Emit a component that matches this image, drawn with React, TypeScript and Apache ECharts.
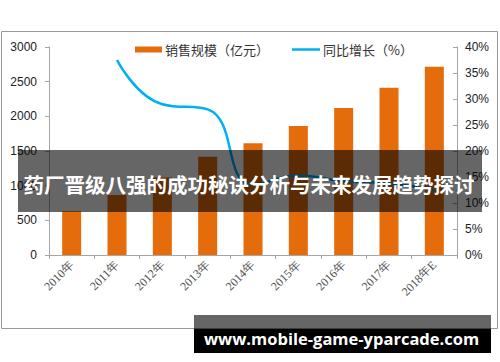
import React, { useEffect, useRef } from "react";
import * as echarts from "echarts";

const categories = ["2010年", "2011年", "2012年", "2013年", "2014年", "2015年", "2016年", "2017年", "2018年E"];
const salesValues = [630, 866, 1117, 1418, 1611, 1860, 2120, 2413, 2716];
const growthValues: (number | string)[] = ["-", 37.5, 29.0, 28.0, 13.5, 15.3, 14.2, 13.8, 12.5];
const leftTicks = { min: 0, max: 3000, interval: 500 };
const rightTicks = { min: 0, max: 40, interval: 5 };
const barName = "销售规模（亿元）";
const lineName = "同比增长（%）";
const bannerText = "药厂晋级八强的成功秘诀分析与未来发展趋势探讨";
const footerText = "www.mobile-game-yparcade.com";

export default function App() {
  const ref = useRef<HTMLDivElement>(null);
  useEffect(() => {
    if (!ref.current) return;
    const chart = echarts.init(ref.current, null, { renderer: "svg" });
    const axisColor = "#A6A6A6";
    const legendText = { fontSize: 13, color: "#333", fontFamily: "Noto Sans CJK SC", padding: [0, 0, 0, -2] };
    chart.setOption({
      animation: false,
      backgroundColor: "#fff",
      grid: { left: 49, right: 43, top: 47, bottom: 107, containLabel: false },
      legend: [
        {
          left: 130,
          top: 38,
          itemWidth: 27,
          itemHeight: 6,
          textStyle: legendText,
          data: [{ name: barName, icon: "rect" }],
        },
        {
          left: 287,
          top: 38,
          itemWidth: 28,
          itemHeight: 2.5,
          textStyle: legendText,
          data: [{ name: lineName, icon: "rect" }],
        },
      ],
      xAxis: {
        type: "category",
        data: categories,
        boundaryGap: true,
        axisLine: { lineStyle: { color: axisColor, width: 1 } },
        axisTick: { show: true, length: 4, lineStyle: { color: axisColor } },
        axisLabel: { rotate: 45, margin: 8, fontSize: 12, color: "#505050", fontFamily: "Liberation Serif", interval: 0 },
        splitLine: { show: false },
      },
      yAxis: [
        {
          type: "value",
          min: leftTicks.min,
          max: leftTicks.max,
          interval: leftTicks.interval,
          axisLine: { show: true, lineStyle: { color: axisColor } },
          axisTick: { show: true, length: 4, lineStyle: { color: axisColor } },
          axisLabel: { margin: 12, fontSize: 12, color: "#222", fontFamily: "Liberation Sans", formatter: (v: number) => String(v) },
          splitLine: { show: false },
        },
        {
          type: "value",
          min: rightTicks.min,
          max: rightTicks.max,
          interval: rightTicks.interval,
          position: "right",
          axisLine: { show: true, lineStyle: { color: axisColor } },
          axisTick: { show: true, inside: true, length: 4, lineStyle: { color: axisColor } },
          axisLabel: { margin: 8, fontSize: 12, color: "#222", fontFamily: "Liberation Sans", formatter: "{value}%" },
          splitLine: { show: false },
        },
      ],
      series: [
        {
          name: barName,
          type: "bar",
          data: salesValues,
          barWidth: 19,
          itemStyle: { color: "#E46C0A" },
        },
        {
          name: lineName,
          type: "line",
          yAxisIndex: 1,
          data: growthValues,
          smooth: true,
          symbol: "none",
          lineStyle: { color: "#00B0F0", width: 2.5 },
          itemStyle: { color: "#00B0F0" },
        },
      ],
      graphic: [
        {
          type: "rect",
          z: -10,
          silent: true,
          shape: { x: 1.5, y: 31.5, width: 496, height: 297 },
          style: { fill: "none", stroke: "#9A9A9A", lineWidth: 1 },
        },
        {
          type: "rect",
          z: 100,
          shape: { x: 18, y: 150, width: 464, height: 62 },
          style: { fill: "rgba(0,0,0,0.6)" },
        },
        {
          type: "text",
          z: 101,
          x: 249,
          y: 184,
          style: {
            text: bannerText,
            fill: "#fff",
            fontSize: 20.5,
            fontWeight: "bold",
            fontFamily: "Noto Sans CJK SC",
            align: "center",
            verticalAlign: "middle",
          },
        },
        {
          type: "rect",
          z: 100,
          shape: { x: 194, y: 315, width: 297, height: 14 },
          style: { fill: "rgba(0,0,0,0.6)" },
        },
        {
          type: "rect",
          z: 100,
          shape: { x: 194, y: 329, width: 297, height: 24 },
          style: { fill: "#000" },
        },
        {
          type: "text",
          z: 101,
          x: 204,
          y: 338,
          style: {
            text: footerText,
            fill: "#fff",
            fontSize: 16.5,
            fontWeight: "bold",
            fontFamily: "Open Sans",
            align: "left",
            verticalAlign: "middle",
          },
        },
      ],
    });
    return () => chart.dispose();
  }, []);
  return <div ref={ref} style={{ width: 500, height: 362, position: "absolute", left: 0, top: 0 }} />;
}
